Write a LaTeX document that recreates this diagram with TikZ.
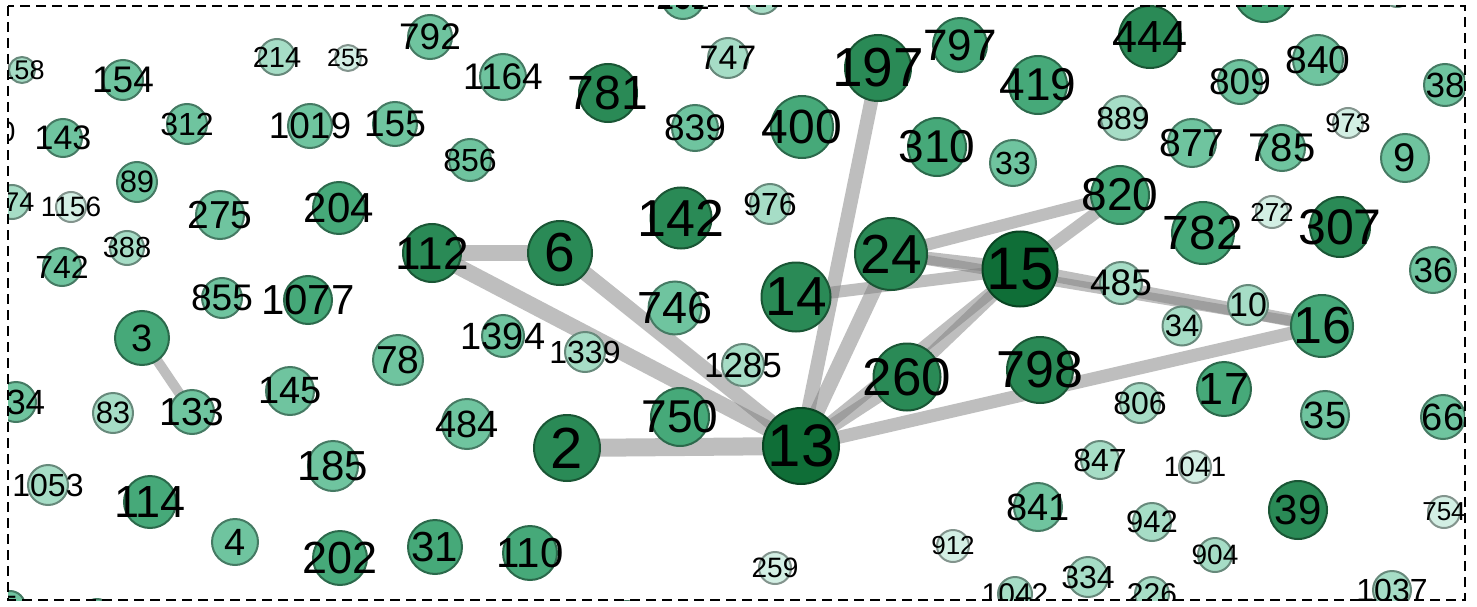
\documentclass[tikz,border=0pt]{standalone}
\usepackage{fontspec}
\setmainfont{Liberation Sans}
\usetikzlibrary{backgrounds}
\definecolor{nwpale}{HTML}{D3EFE4}
\definecolor{nwlight}{HTML}{A6DDC6}
\definecolor{nwmid}{HTML}{6FC49F}
\definecolor{nwdeep}{HTML}{46A979}
\definecolor{nwdark}{HTML}{2A8A56}
\definecolor{nwcore}{HTML}{0F6E37}
\definecolor{nwedge}{HTML}{7E7E7E}
\tikzset{
  nw vertex/.style={circle, inner sep=0pt, line width=2pt, draw=#1!62!black, fill=#1},
  nw num/.style={font=\fontsize{#1}{#1}\selectfont, text=black, inner sep=0pt},
  nw edge/.style={draw=nwedge, draw opacity=0.5, line width=#1, line cap=butt},
  nw frame/.style={draw=black, line width=1.4pt, dash pattern=on 10pt off 6pt}
}

\begin{document}
\begin{tikzpicture}[x=1pt, y=-1pt]
  \useasboundingbox (0,0) rectangle (1477,607);
  \begin{scope}
  \clip (8,6) rectangle (1465,600);
  % cut-off vertices along the frame
  \node[nw vertex=nwmid, minimum size=30pt, label={[nw num=26]center:20}] (v20) at (-8,-8) {};
  \node[nw vertex=nwlight, minimum size=26pt, label={[nw num=27]center:158}] (v158) at (22,70) {};
  \node[nw vertex=nwmid, minimum size=30pt, label={[nw num=28]center:130}] (v130) at (-8,132) {};
  \node[nw vertex=nwlight, minimum size=34pt, label={[nw num=27]center:174}] (v174) at (12,202) {};
  \node[nw vertex=nwmid, minimum size=40pt, label={[nw num=35]center:134}] (v134) at (16,402) {};
  \node[nw vertex=nwmid, minimum size=30pt, label={[nw num=28]center:5}] (v5) at (10,606) {};
  \node[nw vertex=nwmid, minimum size=30pt, label={[nw num=28]center:8}] (v8) at (97,614) {};
  \node[nw vertex=nwmid, minimum size=30pt, label={[nw num=28]center:7}] (v7) at (627,616) {};
  \node[nw vertex=nwmid, minimum size=42pt, label={[nw num=32]center:201}] (v201) at (683,-2) {};
  \node[nw vertex=nwlight, minimum size=36pt, label={[nw num=28]center:153}] (v153) at (762,-4) {};
  \node[nw vertex=nwdeep, minimum size=60pt, label={[nw num=40]center:804}] (v804) at (1264,-8) {};
  \node[nw vertex=nwlight, minimum size=30pt, label={[nw num=26]center:893}] (v893) at (1397,-8) {};
  % left part
  \node[nw vertex=nwmid, minimum size=40pt, label={[nw num=37]center:154}] (v154) at (123,80) {};
  \node[nw vertex=nwlight, minimum size=36pt, label={[nw num=29]center:214}] (v214) at (277,57) {};
  \node[nw vertex=nwpale, minimum size=26pt, label={[nw num=25]center:255}] (v255) at (348,58) {};
  \node[nw vertex=nwmid, minimum size=44pt, label={[nw num=37]center:792}] (v792) at (430,37) {};
  \node[nw vertex=nwmid, minimum size=46pt, label={[nw num=37]center:1164}] (v1164) at (503,77) {};
  \node[nw vertex=nwmid, minimum size=38pt, label={[nw num=34]center:143}] (v143) at (63,138) {};
  \node[nw vertex=nwmid, minimum size=40pt, label={[nw num=32]center:312}] (v312) at (187,124) {};
  \node[nw vertex=nwmid, minimum size=44pt, label={[nw num=37]center:1019}] (v1019) at (310,126) {};
  \node[nw vertex=nwmid, minimum size=44pt, label={[nw num=37]center:155}] (v155) at (395,124) {};
  \node[nw vertex=nwmid, minimum size=42pt, label={[nw num=32]center:856}] (v856) at (470,160) {};
  \node[nw vertex=nwpale, minimum size=30pt, label={[nw num=28]center:1156}] (v1156) at (71,207) {};
  \node[nw vertex=nwmid, minimum size=40pt, label={[nw num=31]center:89}] (v89) at (137,182) {};
  \node[nw vertex=nwmid, minimum size=48pt, label={[nw num=39]center:275}] (v275) at (220,215) {};
  \node[nw vertex=nwdeep, minimum size=52pt, label={[nw num=42]center:204}] (v204) at (339,208) {};
  \node[nw vertex=nwdark, minimum size=58pt, label={[nw num=46]center:112}] (v112) at (432,253) {};
  \node[nw vertex=nwmid, minimum size=38pt, label={[nw num=32]center:742}] (v742) at (62,267) {};
  \node[nw vertex=nwlight, minimum size=34pt, label={[nw num=29]center:388}] (v388) at (127,248) {};
  \node[nw vertex=nwmid, minimum size=40pt, label={[nw num=37]center:855}] (v855) at (222,298) {};
  \node[nw vertex=nwdeep, minimum size=48pt, label={[nw num=42]center:1077}] (v1077) at (308,300) {};
  \node[nw vertex=nwdeep, minimum size=54pt, label={[nw num=38]center:3}] (v3) at (142,338) {};
  \node[nw vertex=nwmid, minimum size=44pt, label={[nw num=39]center:133}] (v133) at (192,412) {};
  \node[nw vertex=nwlight, minimum size=40pt, label={[nw num=31]center:83}] (v83) at (113,413) {};
  \node[nw vertex=nwmid, minimum size=48pt, label={[nw num=38]center:145}] (v145) at (290,391) {};
  \node[nw vertex=nwmid, minimum size=50pt, label={[nw num=39]center:78}] (v78) at (398,360) {};
  \node[nw vertex=nwmid, minimum size=50pt, label={[nw num=38]center:484}] (v484) at (467,424) {};
  \node[nw vertex=nwlight, minimum size=40pt, label={[nw num=32]center:1053}] (v1053) at (48,485) {};
  \node[nw vertex=nwdeep, minimum size=52pt, label={[nw num=45]center:114}] (v114) at (150,502) {};
  \node[nw vertex=nwmid, minimum size=50pt, label={[nw num=42]center:185}] (v185) at (333,466) {};
  \node[nw vertex=nwmid, minimum size=46pt, label={[nw num=38]center:4}] (v4) at (235,542) {};
  \node[nw vertex=nwdeep, minimum size=54pt, label={[nw num=45]center:202}] (v202) at (340,558) {};
  \node[nw vertex=nwdeep, minimum size=54pt, label={[nw num=42]center:31}] (v31) at (435,547) {};
  % middle part
  \node[nw vertex=nwlight, minimum size=40pt, label={[nw num=34]center:747}] (v747) at (728,58) {};
  \node[nw vertex=nwdark, minimum size=58pt, label={[nw num=48]center:781}] (v781) at (608,93) {};
  \node[nw vertex=nwmid, minimum size=46pt, label={[nw num=37]center:839}] (v839) at (695,128) {};
  \node[nw vertex=nwdeep, minimum size=62pt, label={[nw num=48]center:400}] (v400) at (802,127) {};
  \node[nw vertex=nwdark, minimum size=66pt, label={[nw num=55]center:197}] (v197) at (878,68) {};
  \node[nw vertex=nwdeep, minimum size=54pt, label={[nw num=44]center:797}] (v797) at (960,45) {};
  \node[nw vertex=nwdeep, minimum size=58pt, label={[nw num=46]center:310}] (v310) at (937,147) {};
  \node[nw vertex=nwdark, minimum size=61pt, label={[nw num=52]center:142}] (v142) at (681,218) {};
  \node[nw vertex=nwlight, minimum size=40pt, label={[nw num=32]center:976}] (v976) at (770,204) {};
  \node[nw vertex=nwdark, minimum size=64pt, label={[nw num=55]center:6}] (v6) at (560,253) {};
  \node[nw vertex=nwdark, minimum size=72pt, label={[nw num=55]center:24}] (v24) at (891,254) {};
  \node[nw vertex=nwdark, minimum size=69pt, label={[nw num=55]center:14}] (v14) at (796,297) {};
  \node[nw vertex=nwmid, minimum size=53pt, label={[nw num=45]center:746}] (v746) at (675,308) {};
  \node[nw vertex=nwmid, minimum size=42pt, label={[nw num=38]center:1394}] (v1394) at (503,336) {};
  \node[nw vertex=nwlight, minimum size=40pt, label={[nw num=32]center:1339}] (v1339) at (585,352) {};
  \node[nw vertex=nwlight, minimum size=42pt, label={[nw num=35]center:1285}] (v1285) at (743,365) {};
  \node[nw vertex=nwdeep, minimum size=58pt, label={[nw num=46]center:750}] (v750) at (680,417) {};
  \node[nw vertex=nwdark, minimum size=66pt, label={[nw num=58]center:2}] (v2) at (567,448) {};
  \node[nw vertex=nwcore, minimum size=76pt, label={[nw num=60]center:13}] (v13) at (801,446) {};
  \node[nw vertex=nwdark, minimum size=67pt, label={[nw num=53]center:260}] (v260) at (907,377) {};
  \node[nw vertex=nwdeep, minimum size=54pt, label={[nw num=42]center:110}] (v110) at (530,553) {};
  \node[nw vertex=nwpale, minimum size=32pt, label={[nw num=28]center:259}] (v259) at (775,568) {};
  \node[nw vertex=nwpale, minimum size=32pt, label={[nw num=26]center:912}] (v912) at (953,546) {};
  % right part
  \node[nw vertex=nwdark, minimum size=62pt, label={[nw num=45]center:444}] (v444) at (1150,37) {};
  \node[nw vertex=nwdeep, minimum size=58pt, label={[nw num=46]center:419}] (v419) at (1038,85) {};
  \node[nw vertex=nwmid, minimum size=44pt, label={[nw num=37]center:809}] (v809) at (1240,82) {};
  \node[nw vertex=nwmid, minimum size=50pt, label={[nw num=39]center:840}] (v840) at (1318,60) {};
  \node[nw vertex=nwmid, minimum size=42pt, label={[nw num=35]center:38}] (v38) at (1445,85) {};
  \node[nw vertex=nwlight, minimum size=44pt, label={[nw num=32]center:889}] (v889) at (1123,118) {};
  \node[nw vertex=nwmid, minimum size=48pt, label={[nw num=39]center:877}] (v877) at (1192,143) {};
  \node[nw vertex=nwmid, minimum size=46pt, label={[nw num=40]center:785}] (v785) at (1282,148) {};
  \node[nw vertex=nwpale, minimum size=30pt, label={[nw num=27]center:973}] (v973) at (1348,123) {};
  \node[nw vertex=nwmid, minimum size=48pt, label={[nw num=40]center:9}] (v9) at (1405,158) {};
  \node[nw vertex=nwmid, minimum size=46pt, label={[nw num=32]center:33}] (v33) at (1013,163) {};
  \node[nw vertex=nwdeep, minimum size=58pt, label={[nw num=46]center:820}] (v820) at (1120,195) {};
  \node[nw vertex=nwdeep, minimum size=62pt, label={[nw num=48]center:782}] (v782) at (1203,233) {};
  \node[nw vertex=nwpale, minimum size=32pt, label={[nw num=26]center:272}] (v272) at (1272,212) {};
  \node[nw vertex=nwdark, minimum size=60pt, label={[nw num=50]center:307}] (v307) at (1340,227) {};
  \node[nw vertex=nwmid, minimum size=46pt, label={[nw num=35]center:36}] (v36) at (1433,270) {};
  \node[nw vertex=nwcore, minimum size=75pt, label={[nw num=60]center:15}] (v15) at (1020,269) {};
  \node[nw vertex=nwlight, minimum size=42pt, label={[nw num=37]center:485}] (v485) at (1121,283) {};
  \node[nw vertex=nwlight, minimum size=40pt, label={[nw num=34]center:10}] (v10) at (1248,305) {};
  \node[nw vertex=nwdeep, minimum size=62pt, label={[nw num=52]center:16}] (v16) at (1322,326) {};
  \node[nw vertex=nwlight, minimum size=39pt, label={[nw num=31]center:34}] (v34) at (1182,326) {};
  \node[nw vertex=nwdark, minimum size=66pt, label={[nw num=52]center:798}] (v798) at (1040,370) {};
  \node[nw vertex=nwlight, minimum size=40pt, label={[nw num=32]center:806}] (v806) at (1140,403) {};
  \node[nw vertex=nwdeep, minimum size=54pt, label={[nw num=45]center:17}] (v17) at (1224,389) {};
  \node[nw vertex=nwmid, minimum size=48pt, label={[nw num=38]center:35}] (v35) at (1325,415) {};
  \node[nw vertex=nwmid, minimum size=44pt, label={[nw num=38]center:66}] (v66) at (1443,417) {};
  \node[nw vertex=nwlight, minimum size=38pt, label={[nw num=32]center:847}] (v847) at (1100,460) {};
  \node[nw vertex=nwpale, minimum size=32pt, label={[nw num=28]center:1041}] (v1041) at (1195,467) {};
  \node[nw vertex=nwmid, minimum size=48pt, label={[nw num=38]center:841}] (v841) at (1038,507) {};
  \node[nw vertex=nwdark, minimum size=58pt, label={[nw num=42]center:39}] (v39) at (1298,510) {};
  \node[nw vertex=nwlight, minimum size=38pt, label={[nw num=31]center:942}] (v942) at (1152,522) {};
  \node[nw vertex=nwpale, minimum size=32pt, label={[nw num=26]center:754}] (v754) at (1444,512) {};
  \node[nw vertex=nwlight, minimum size=34pt, label={[nw num=28]center:904}] (v904) at (1215,555) {};
  \node[nw vertex=nwlight, minimum size=40pt, label={[nw num=32]center:334}] (v334) at (1088,577) {};
  \node[nw vertex=nwlight, minimum size=34pt, label={[nw num=30]center:1042}] (v1042) at (1015,594) {};
  \node[nw vertex=nwlight, minimum size=34pt, label={[nw num=30]center:226}] (v226) at (1152,594) {};
  \node[nw vertex=nwlight, minimum size=38pt, label={[nw num=32]center:1037}] (v1037) at (1392,590) {};
  \end{scope}
  % edges under the vertices
  \begin{scope}[on background layer]
  \clip (8,6) rectangle (1465,600);
  \draw[nw edge=10pt] (v3.center) -- (v133.center);
  \draw[nw edge=16pt] (v112.center) -- (v6.center);
  \draw[nw edge=16pt] (v112.center) -- (v13.center);
  \draw[nw edge=15pt] (v6.center) -- (v13.center);
  \draw[nw edge=18pt] (v2.center) -- (v13.center);
  \draw[nw edge=14pt] (v13.center) -- (v197.center);
  \draw[nw edge=15pt] (v13.center) -- (v24.center);
  \draw[nw edge=14pt] (v13.center) -- (v260.center);
  \draw[nw edge=13pt] (v260.center) -- (v15.center);
  \draw[nw edge=12pt] (v13.center) -- (v15.center);
  \draw[nw edge=13pt] (v13.center) -- (v16.center);
  \draw[nw edge=12pt] (v14.center) -- (v15.center);
  \draw[nw edge=13pt] (v24.center) -- (v15.center);
  \draw[nw edge=10pt] (v24.center) -- (v16.center);
  \draw[nw edge=12pt] (v24.center) -- (v820.center);
  \draw[nw edge=12pt] (v15.center) -- (v820.center);
  \draw[nw edge=13pt] (v15.center) -- (v16.center);
  \end{scope}
  \draw[nw frame] (8,6) rectangle (1465,600);
\end{tikzpicture}
\end{document}
